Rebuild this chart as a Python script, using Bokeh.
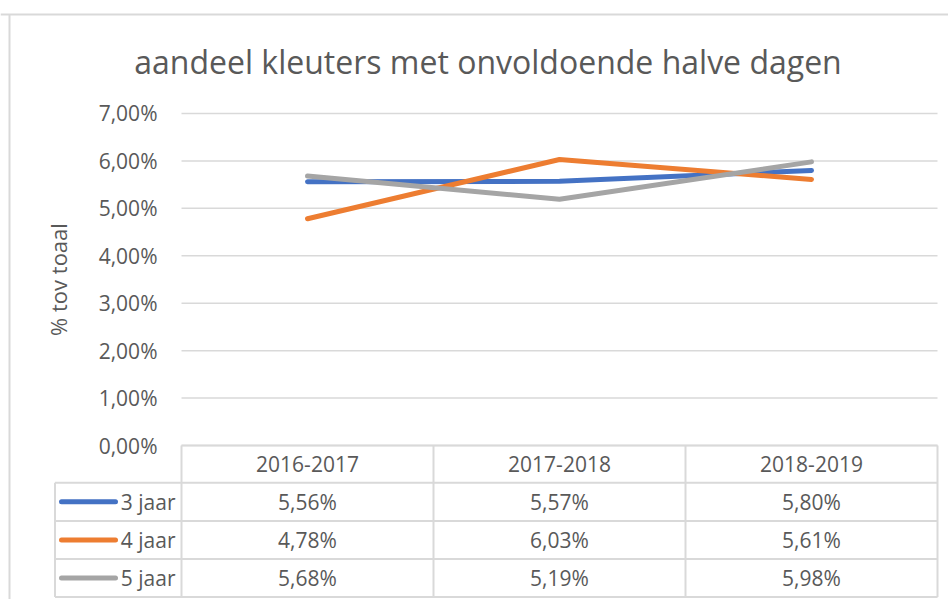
from bokeh.plotting import figure
from bokeh.models import Range1d, FixedTicker, Label
from bokeh.core.properties import value
from bokeh.embed import file_html
from bokeh.resources import INLINE

# ---------------- data ----------------
title_text = "aandeel kleuters met onvoldoende halve dagen"
y_label = "% tov toaal"
categories = ["2016-2017", "2017-2018", "2018-2019"]
series_names = ["3 jaar", "4 jaar", "5 jaar"]
jaar3 = [5.56, 5.57, 5.80]
jaar4 = [4.78, 6.03, 5.61]
jaar5 = [5.68, 5.19, 5.98]
y_ticks = [0, 1, 2, 3, 4, 5, 6, 7]
y_tick_labels = ["0,00%", "1,00%", "2,00%", "3,00%", "4,00%", "5,00%", "6,00%", "7,00%"]
series_colors = ["#4472C4", "#ED7D31", "#A5A5A5"]
series_values = [jaar3, jaar4, jaar5]

# ---------------- layout helpers (pixel geometry of the reference) ----------------
W, H = 948, 599
PX_X = 252.0      # pixels per category
PX_Y = 47.43      # pixels per 1 %
ORIGIN_X = 181.0  # page x of plot-area left
ORIGIN_Y = 445.0  # page y of the 0 % line


def rx(c):
    return (c - ORIGIN_X) / PX_X


def ry(r):
    return (ORIGIN_Y - r) / PX_Y


x_start, x_end = rx(0), rx(W)
y_end, y_start = ry(0), ry(H)

TEXT = "#595959"
GRID = "#d9d9d9"
FONT = "Open Sans"
FS = "21px"

p = figure(width=W, height=H, x_range=Range1d(x_start, x_end), y_range=Range1d(y_start, y_end),
           output_backend="svg", toolbar_location=None, min_border=0,
           x_axis_location=None, y_axis_location="left")
p.outline_line_color = None
p.background_fill_color = "white"
p.border_fill_color = "white"
p.xgrid.visible = False
p.ygrid.visible = False

ax = p.yaxis[0]
ax.fixed_location = 0
ax.bounds = (y_ticks[0], y_ticks[-1])
ax.ticker = FixedTicker(ticks=y_ticks)
ax.major_label_overrides = {t: l for t, l in zip(y_ticks, y_tick_labels)}
ax.axis_line_color = None
ax.major_tick_line_color = None
ax.minor_tick_line_color = None
ax.major_tick_in = 0
ax.major_tick_out = 0
ax.major_label_standoff = 24
ax.major_label_text_font = FONT
ax.major_label_text_font_size = FS
ax.major_label_text_color = TEXT
ax.axis_label = y_label
ax.axis_label_text_font = FONT
ax.axis_label_text_font_style = "normal"
ax.axis_label_text_font_size = "22px"
ax.axis_label_text_color = TEXT
ax.axis_label_standoff = 23

n_cat = len(categories)
cx = [i + 0.5 for i in range(n_cat)]

# outer chart border (top and left)
p.segment(x0=[rx(9), x_start], y0=[y_start, ry(14)], x1=[rx(9), x_end], y1=[ry(14), ry(14)],
          line_color=GRID, line_width=2)

# horizontal gridlines
p.segment(x0=[0] * len(y_ticks), y0=y_ticks, x1=[n_cat] * len(y_ticks), y1=y_ticks,
          line_color=GRID, line_width=1.5)

# data table geometry
header_h = 37.3 / PX_Y
row_h = 38.1 / PX_Y
leg_left = rx(54.5)
header_bot = -header_h
row_bots = [header_bot - row_h * (k + 1) for k in range(len(series_names))]
table_bot = row_bots[-1]

hx0 = [0] + [leg_left] * (1 + len(row_bots))
hx1 = [n_cat] * (2 + len(row_bots))
hy = [0, header_bot] + row_bots
p.segment(x0=hx0, y0=hy, x1=hx1, y1=hy, line_color=GRID, line_width=2)
vx = [leg_left] + list(range(n_cat + 1))
vy0 = [header_bot] + [0] * (n_cat + 1)
p.segment(x0=vx, y0=vy0, x1=vx, y1=[table_bot] * len(vx), line_color=GRID, line_width=2)

# series lines
for vals, col in zip(series_values, series_colors):
    p.line(cx, vals, line_color=col, line_width=5, line_cap="round", line_join="round")

# table header
p.text(x=cx, y=[header_bot / 2] * n_cat, text=categories, text_align="center", text_baseline="middle",
       text_font=value(FONT), text_font_size=value(FS), text_color=TEXT)

# table rows
for k, (name, vals, col) in enumerate(zip(series_names, series_values, series_colors)):
    yc = header_bot - row_h * (k + 0.5)
    p.line([rx(61), rx(115)], [yc, yc], line_color=col, line_width=5, line_cap="round")
    p.text(x=[rx(175)], y=[yc], text=[name], text_align="right", text_baseline="middle",
           text_font=value(FONT), text_font_size=value(FS), text_color=TEXT)
    labels = [("%.2f" % v).replace(".", ",") + "%" for v in vals]
    p.text(x=cx, y=[yc] * n_cat, text=labels, text_align="center", text_baseline="middle",
           text_font=value(FONT), text_font_size=value(FS), text_color=TEXT)

# chart title
p.add_layout(Label(x=rx(487.5), y=ry(61), text=title_text, text_align="center",
                   text_baseline="alphabetic", text_font=FONT, text_font_size="32px",
                   text_color=TEXT))

open("out.html", "w").write(file_html(p, INLINE))
